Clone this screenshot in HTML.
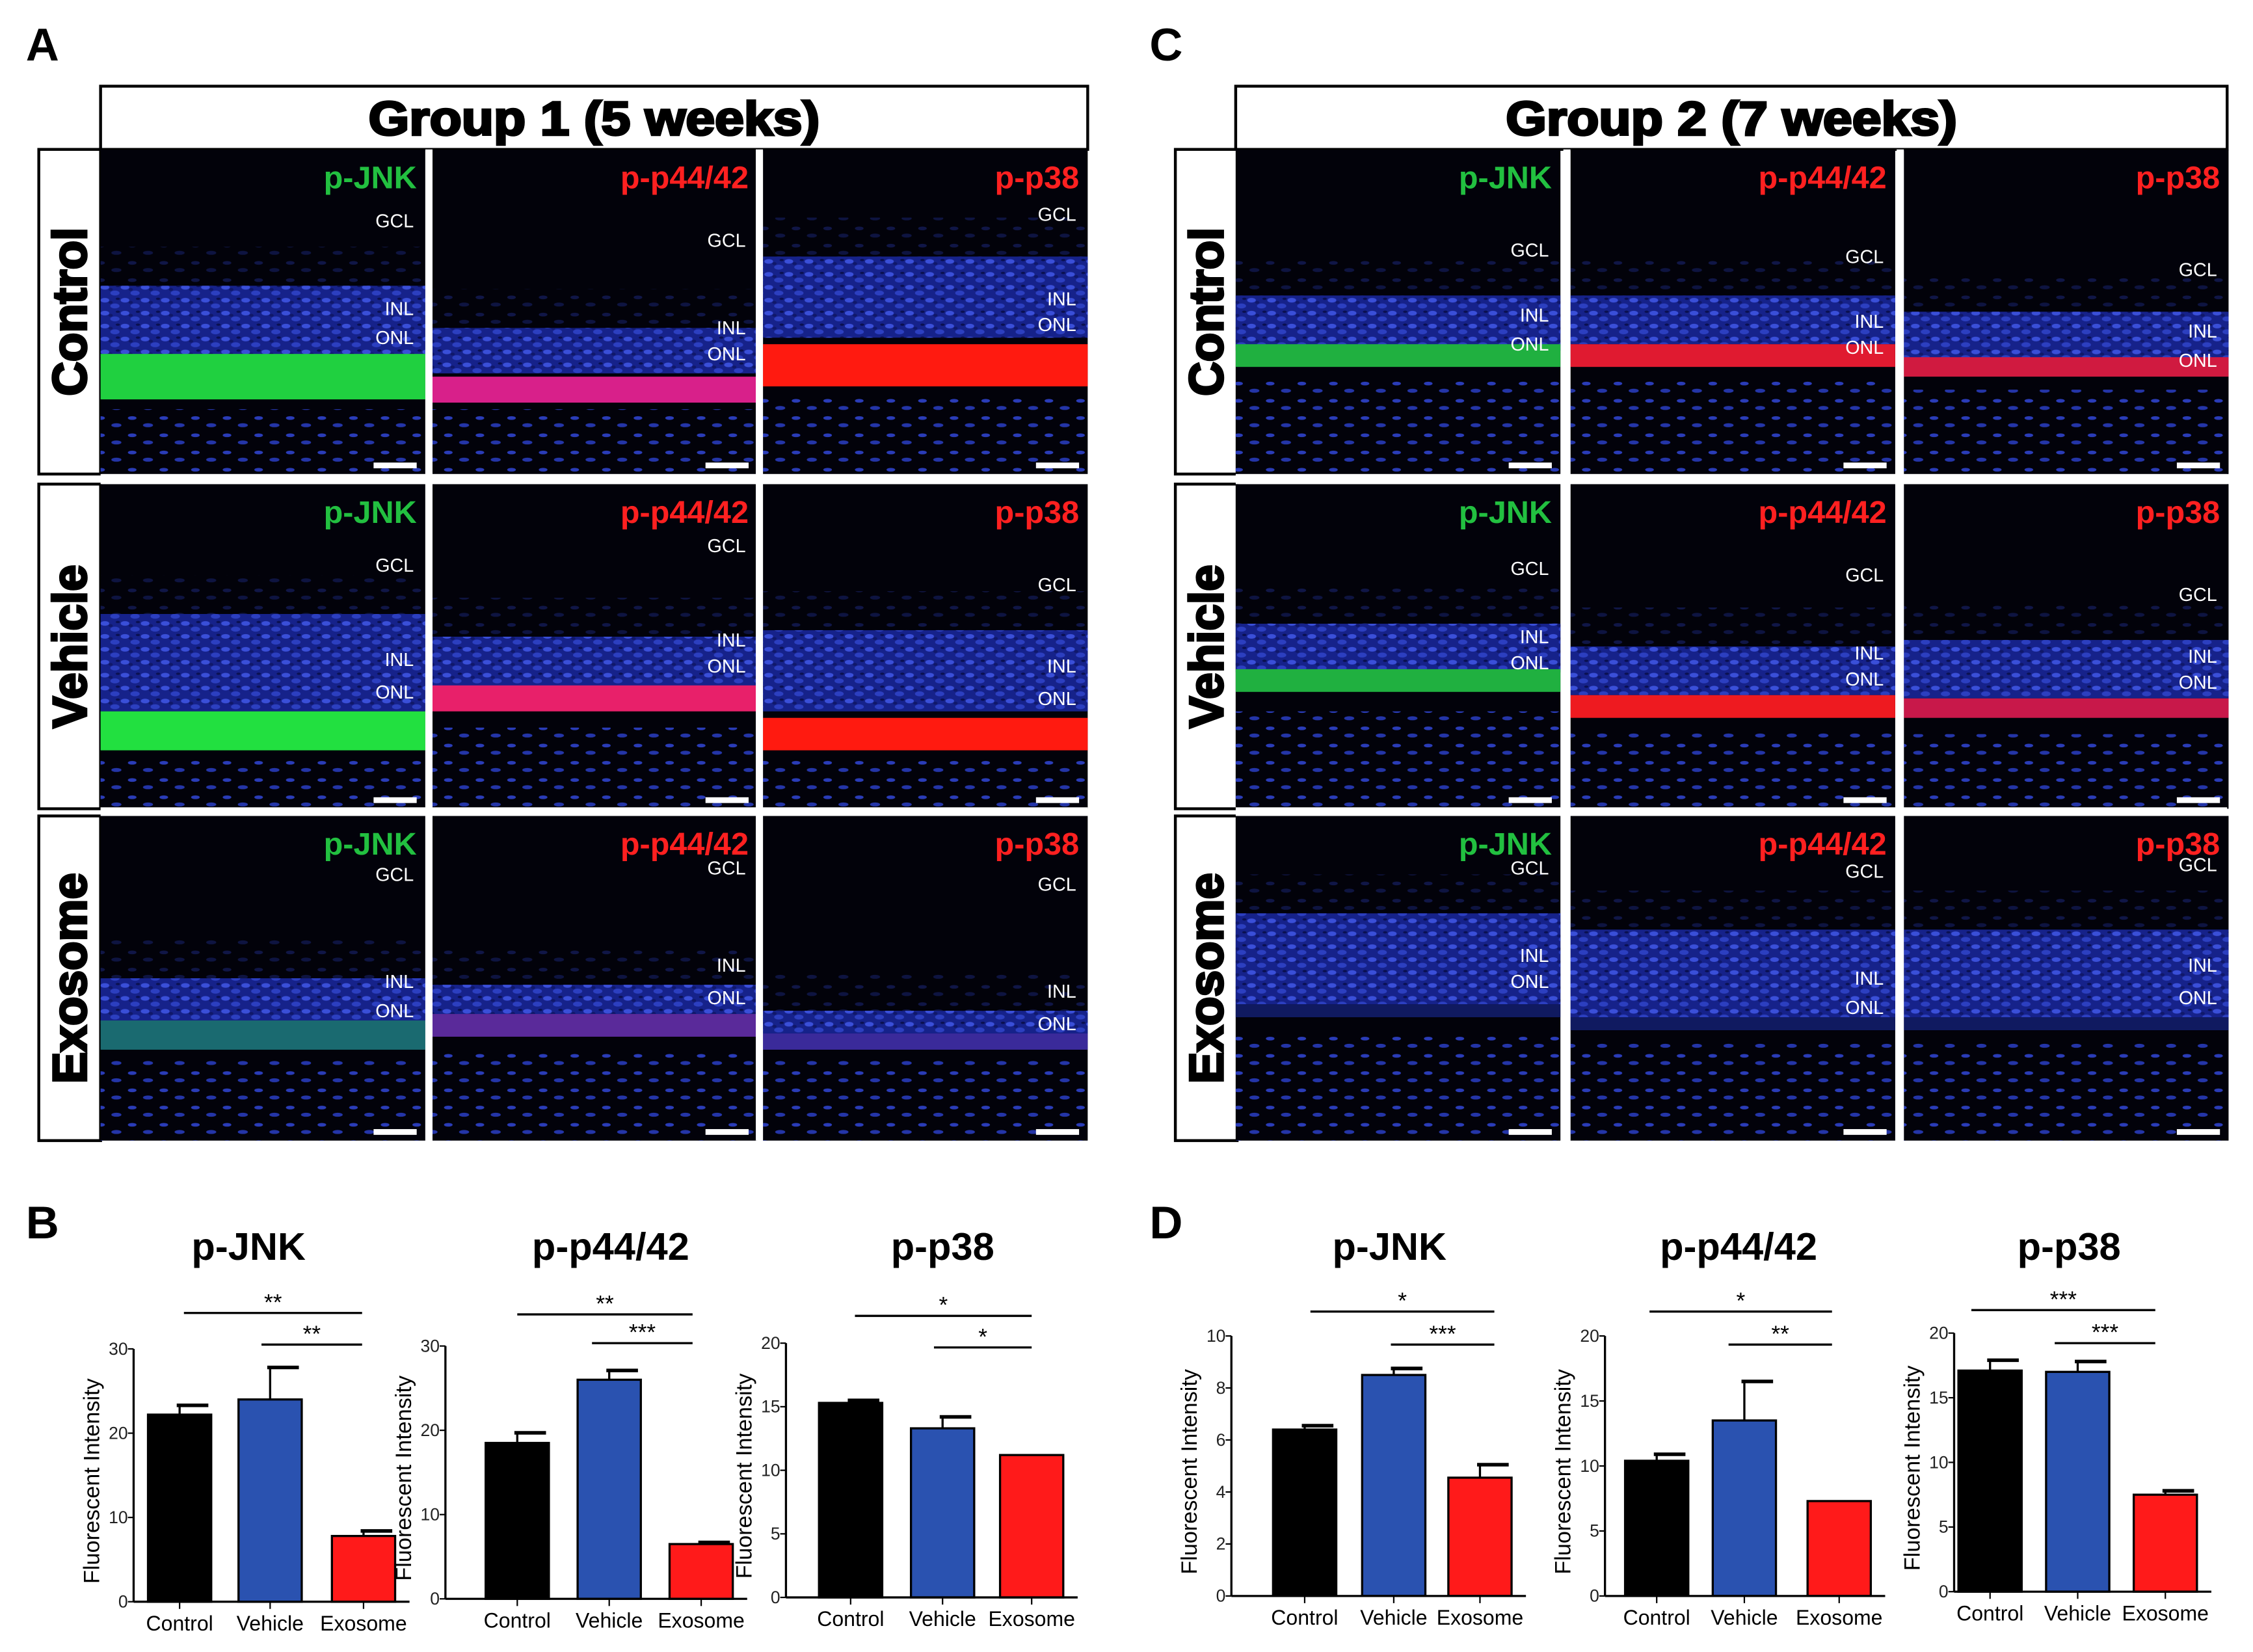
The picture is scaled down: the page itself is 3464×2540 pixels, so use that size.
<!DOCTYPE html>
<html><head><meta charset="utf-8">
<style>
html,body{margin:0;padding:0;background:#fff;}
svg{display:block;font-family:"Liberation Sans",Arial,sans-serif;}
</style></head>
<body>
<svg id="fig" width="3464" height="2540" viewBox="0 0 1568 1150" preserveAspectRatio="none" xmlns="http://www.w3.org/2000/svg">
<defs>
<pattern id="nuc" width="14" height="9" patternUnits="userSpaceOnUse">
<ellipse cx="3" cy="2" rx="3" ry="1.6" fill="#3a4fd8"/>
<ellipse cx="10" cy="6" rx="3.2" ry="1.7" fill="#2c3fc0"/>
<ellipse cx="7" cy="3.5" rx="1.5" ry="1" fill="#10186a"/>
<ellipse cx="12" cy="1" rx="1.5" ry="0.8" fill="#0a1050"/>
</pattern>
<pattern id="nucs" width="22" height="12" patternUnits="userSpaceOnUse">
<ellipse cx="4" cy="3" rx="3" ry="1.3" fill="#2a3cb8"/>
<ellipse cx="15" cy="8" rx="3.5" ry="1.4" fill="#2435a8"/>
</pattern>
</defs>
<g id="panels"></g>
<g id="charts"></g>
</svg>
<script>
const NS="http://www.w3.org/2000/svg";
function mk(tag,attrs,parent,text){const e=document.createElementNS(NS,tag);for(const k in attrs)e.setAttribute(k,attrs[k]);if(text!==undefined)e.textContent=text;parent.appendChild(e);return e;}
const P=document.getElementById('panels');

[['A',18,42],['C',800,42],['B',18,862],['D',800,862]].forEach(l=>{
 const t=mk('text',{x:l[1],y:l[2],'font-size':32,'font-weight':'bold',fill:'#000'},P,l[0]);
 
 
});

const groups=[{name:'Group 1 (5 weeks)',lx:27,cols:[70,301,531],w:226,hx:70,hw:687},
              {name:'Group 2 (7 weeks)',lx:818,cols:[860,1093,1325],w:226,hx:860,hw:690}];
const rowsY=[104,337,568], rowH=226;
const rowNames=['Control','Vehicle','Exosome'];
const markers=[['p-JNK','#22c040'],['p-p44/42','#ff2020'],['p-p38','#ff2020']];
const spec=[
 [[[.42,.64,.63,.77,'#20d040',.8],[.55,.69,.7,.78,'#d8208a',.8],[.33,.58,.6,.73,'#ff1a10',.76]],
  [[.4,.7,.7,.82,'#22e040',.85],[.47,.64,.62,.7,'#e8206a',.75],[.45,.7,.72,.82,'#ff1a10',.85]],
  [[.5,.64,.63,.72,'#1a6a70',.75],[.52,.61,.61,.68,'#5a2a9a',.72],[.6,.67,.67,.72,'#3a2a9a',.75]]],
 [[[.45,.62,.6,.67,'#20b040',.7],[.45,.6,.6,.67,'#e01a30',.7],[.5,.65,.64,.7,'#d01a40',.74]],
  [[.43,.58,.57,.64,'#20b040',.7],[.5,.65,.65,.72,'#ee1a20',.76],[.48,.66,.66,.72,'#c8184a',.77]],
  [[.3,.58,.58,.62,'#101a60',.68],[.35,.62,.62,.66,'#101a60',.7],[.35,.62,.62,.66,'#101a60',.7]]]
];
const lbl=[
 [[[.24,.51,.6],[.3,.57,.65],[.22,.48,.56]],[[.27,.56,.66],[.21,.5,.58],[.33,.58,.68]],[[.2,.53,.62],[.18,.48,.58],[.23,.56,.66]]],
 [[[.33,.53,.62],[.35,.55,.63],[.39,.58,.67]],[[.28,.49,.57],[.3,.54,.62],[.36,.55,.63]],[[.18,.45,.53],[.19,.52,.61],[.17,.48,.58]]]
];
groups.forEach((g,gi)=>{
 const h=mk('rect',{x:g.hx,y:60,width:g.hw,height:44,fill:'#fff',stroke:'#000','stroke-width':2},P);
 
 
 const ht=mk('text',{x:g.hx+g.hw/2,y:94,'font-size':33,'font-weight':'bold','text-anchor':'middle',stroke:'#000','stroke-width':1.6,textLength:314,lengthAdjust:'spacingAndGlyphs'},P,g.name);
 
 
 rowsY.forEach((ry,ri)=>{
  const lb=mk('rect',{x:g.lx,y:ry,width:43,height:rowH,fill:'#fff',stroke:'#000','stroke-width':2},P);
  
  
  const cx=g.lx+22, cy=ry+rowH/2;
  const lt=mk('text',{x:cx,y:cy,'font-size':33,'font-weight':'bold','text-anchor':'middle','dominant-baseline':'central',stroke:'#000','stroke-width':1.6,transform:`rotate(-90 ${cx} ${cy})`},P,rowNames[ri]);
  
  
  g.cols.forEach((cx0,ci)=>{
   const s=spec[gi][ri][ci], H=rowH, W=g.w;
   const grp=mk('g',{},P);
   
   
   mk('rect',{x:cx0,y:ry,width:W,height:H,fill:'#02020a'},grp);
   mk('rect',{x:cx0,y:ry+s[0]*H,width:W,height:(s[1]-s[0])*H,fill:'#16228a'},grp);
   mk('rect',{x:cx0,y:ry+s[0]*H,width:W,height:(s[1]-s[0])*H,fill:'url(#nuc)'},grp);
   mk('rect',{x:cx0,y:ry+s[2]*H,width:W,height:(s[3]-s[2])*H,fill:s[4]},grp);
   mk('rect',{x:cx0,y:ry+s[5]*H,width:W,height:(1-s[5])*H,fill:'url(#nucs)'},grp);
   mk('rect',{x:cx0,y:ry+(s[0]-0.12)*H,width:W,height:0.12*H,fill:'url(#nucs)',opacity:0.35},grp);
   const mt=mk('text',{x:cx0+W-6,y:ry+27,'font-size':22,'font-weight':'bold','text-anchor':'end',fill:markers[ci][1]},grp,markers[ci][0]);
   
   
   ['GCL','INL','ONL'].forEach((n,ni)=>{
     const t=mk('text',{x:cx0+W-8,y:ry+lbl[gi][ri][ci][ni]*H,'font-size':13,'text-anchor':'end',fill:'#fff'},grp,n);
     
     
   });
   const sb=mk('rect',{x:cx0+W-36,y:ry+H-8,width:30,height:4,fill:'#fff'},grp);
   
   
  });
 });
 g.cols.slice(1).forEach(cx0=>mk('rect',{x:cx0-5,y:104,width:5,height:690,fill:'#fff'},P));
 mk('rect',{x:g.hx,y:330,width:g.hw,height:7,fill:'#fff'},P);
 mk('rect',{x:g.hx,y:562,width:g.hw,height:6,fill:'#fff'},P);
});
</script>
<script>
// ---- chart data ----
const categories=['Control','Vehicle','Exosome'];
const barColors=['#000000','#2a52b0','#ff1a1a'];
const titles=['p-JNK','p-p44/42','p-p38','p-JNK','p-p44/42','p-p38'];
const means1=[22.2,24.0,7.8];   const errs1=[1.1,3.8,0.6];
const means2=[18.5,26.0,6.5];   const errs2=[1.2,1.1,0.2];
const means3=[15.3,13.3,11.2];  const errs3=[0.2,0.9,0.0];
const means4=[6.4,8.5,4.55];    const errs4=[0.15,0.25,0.5];
const means5=[10.4,13.5,7.3];   const errs5=[0.5,3.0,0.0];
const means6=[17.1,17.0,7.5];   const errs6=[0.8,0.8,0.3];
const yMaxes=[30,30,20,10,20,20];
const tickVals=[[0,10,20,30],[0,10,20,30],[0,5,10,15,20],[0,2,4,6,8,10],[0,5,10,15,20],[0,5,10,15,20]];
const sigLabels=[['**','**'],['**','***'],['*','*'],['*','***'],['*','**'],['***','***']];

const layouts=[
 {ax:93,top:939,bot:1115,cx:[125,188,253],sig:[[128,252,914],[182,252,936]],tx:173},
 {ax:310,top:937,bot:1113,cx:[360,424,488],sig:[[360,482,915],[412,482,935]],tx:425},
 {ax:547,top:935,bot:1112,cx:[592,656,718],sig:[[595,718,916],[650,718,938]],tx:656},
 {ax:857,top:930,bot:1111,cx:[908,970,1030],sig:[[912,1040,913],[968,1040,936]],tx:967},
 {ax:1117,top:930,bot:1111,cx:[1153,1214,1280],sig:[[1148,1275,913],[1203,1275,936]],tx:1210},
 {ax:1360,top:928,bot:1108,cx:[1385,1446,1507],sig:[[1372,1500,912],[1430,1500,935]],tx:1440}
];
const allMeans=[means1,means2,means3,means4,means5,means6];
const allErrs=[errs1,errs2,errs3,errs4,errs5,errs6];
const C=document.getElementById('charts');
layouts.forEach((L,i)=>{
 const g=mk('g',{},C);
 
 
 const y=v=>L.bot-(v/yMaxes[i])*(L.bot-L.top);
 const bw=44;
 const t=mk('text',{x:L.tx,y:877,'font-size':27,'font-weight':'bold','text-anchor':'middle'},g,titles[i]);
 
 
 allMeans[i].forEach((m,k)=>{
  const x=L.cx[k];
  const e=allErrs[i][k];
  if(e>0){
   const el=mk('line',{x1:x,x2:x,y1:y(m),y2:y(m+e),stroke:'#000','stroke-width':1.5},g);
   
   
   mk('line',{x1:x-2,x2:x+bw/2-2,y1:y(m+e),y2:y(m+e),stroke:'#000','stroke-width':2.5},g);
  }
  const b=mk('rect',{x:x-bw/2,y:y(m),width:bw,height:y(0)-y(m),fill:barColors[k],stroke:'#000','stroke-width':1.5},g);
  
  
  const xl=mk('text',{x:x,y:L.bot+20,'font-size':14.5,'text-anchor':'middle'},g,categories[k]);
  
  
  mk('line',{x1:x,x2:x,y1:L.bot,y2:L.bot+5,stroke:'#000','stroke-width':1},g);
 });
 const ya=mk('line',{x1:L.ax,x2:L.ax,y1:L.top,y2:L.bot,stroke:'#000','stroke-width':1.5},g);
 
 
 const xa=mk('line',{x1:L.ax,x2:L.cx[2]+bw/2+10,y1:L.bot,y2:L.bot,stroke:'#000','stroke-width':1.5},g);
 
 
 tickVals[i].forEach(v=>{
  mk('line',{x1:L.ax-4,x2:L.ax,y1:y(v),y2:y(v),stroke:'#000','stroke-width':1},g);
  const tl=mk('text',{x:L.ax-4,y:y(v)+4,'font-size':12,'text-anchor':'end',fill:'#222'},g,String(v));
  
  
 });
 const mx=L.ax-24, my=(L.top+L.bot)/2+4;
 const yl=mk('text',{x:mx,y:my,'font-size':15.5,'text-anchor':'middle',transform:`rotate(-90 ${mx} ${my})`},g,'Fluorescent Intensity');
 
 
 L.sig.forEach((s,si)=>{
  const sl=mk('line',{x1:s[0],x2:s[1],y1:s[2],y2:s[2],stroke:'#000','stroke-width':1.5},g);
  
  
  const st=mk('text',{x:(s[0]+s[1])/2,y:s[2]-2,'font-size':16,'text-anchor':'middle'},g,sigLabels[i][si]);
  
  
 });
});
</script>
</body></html>
